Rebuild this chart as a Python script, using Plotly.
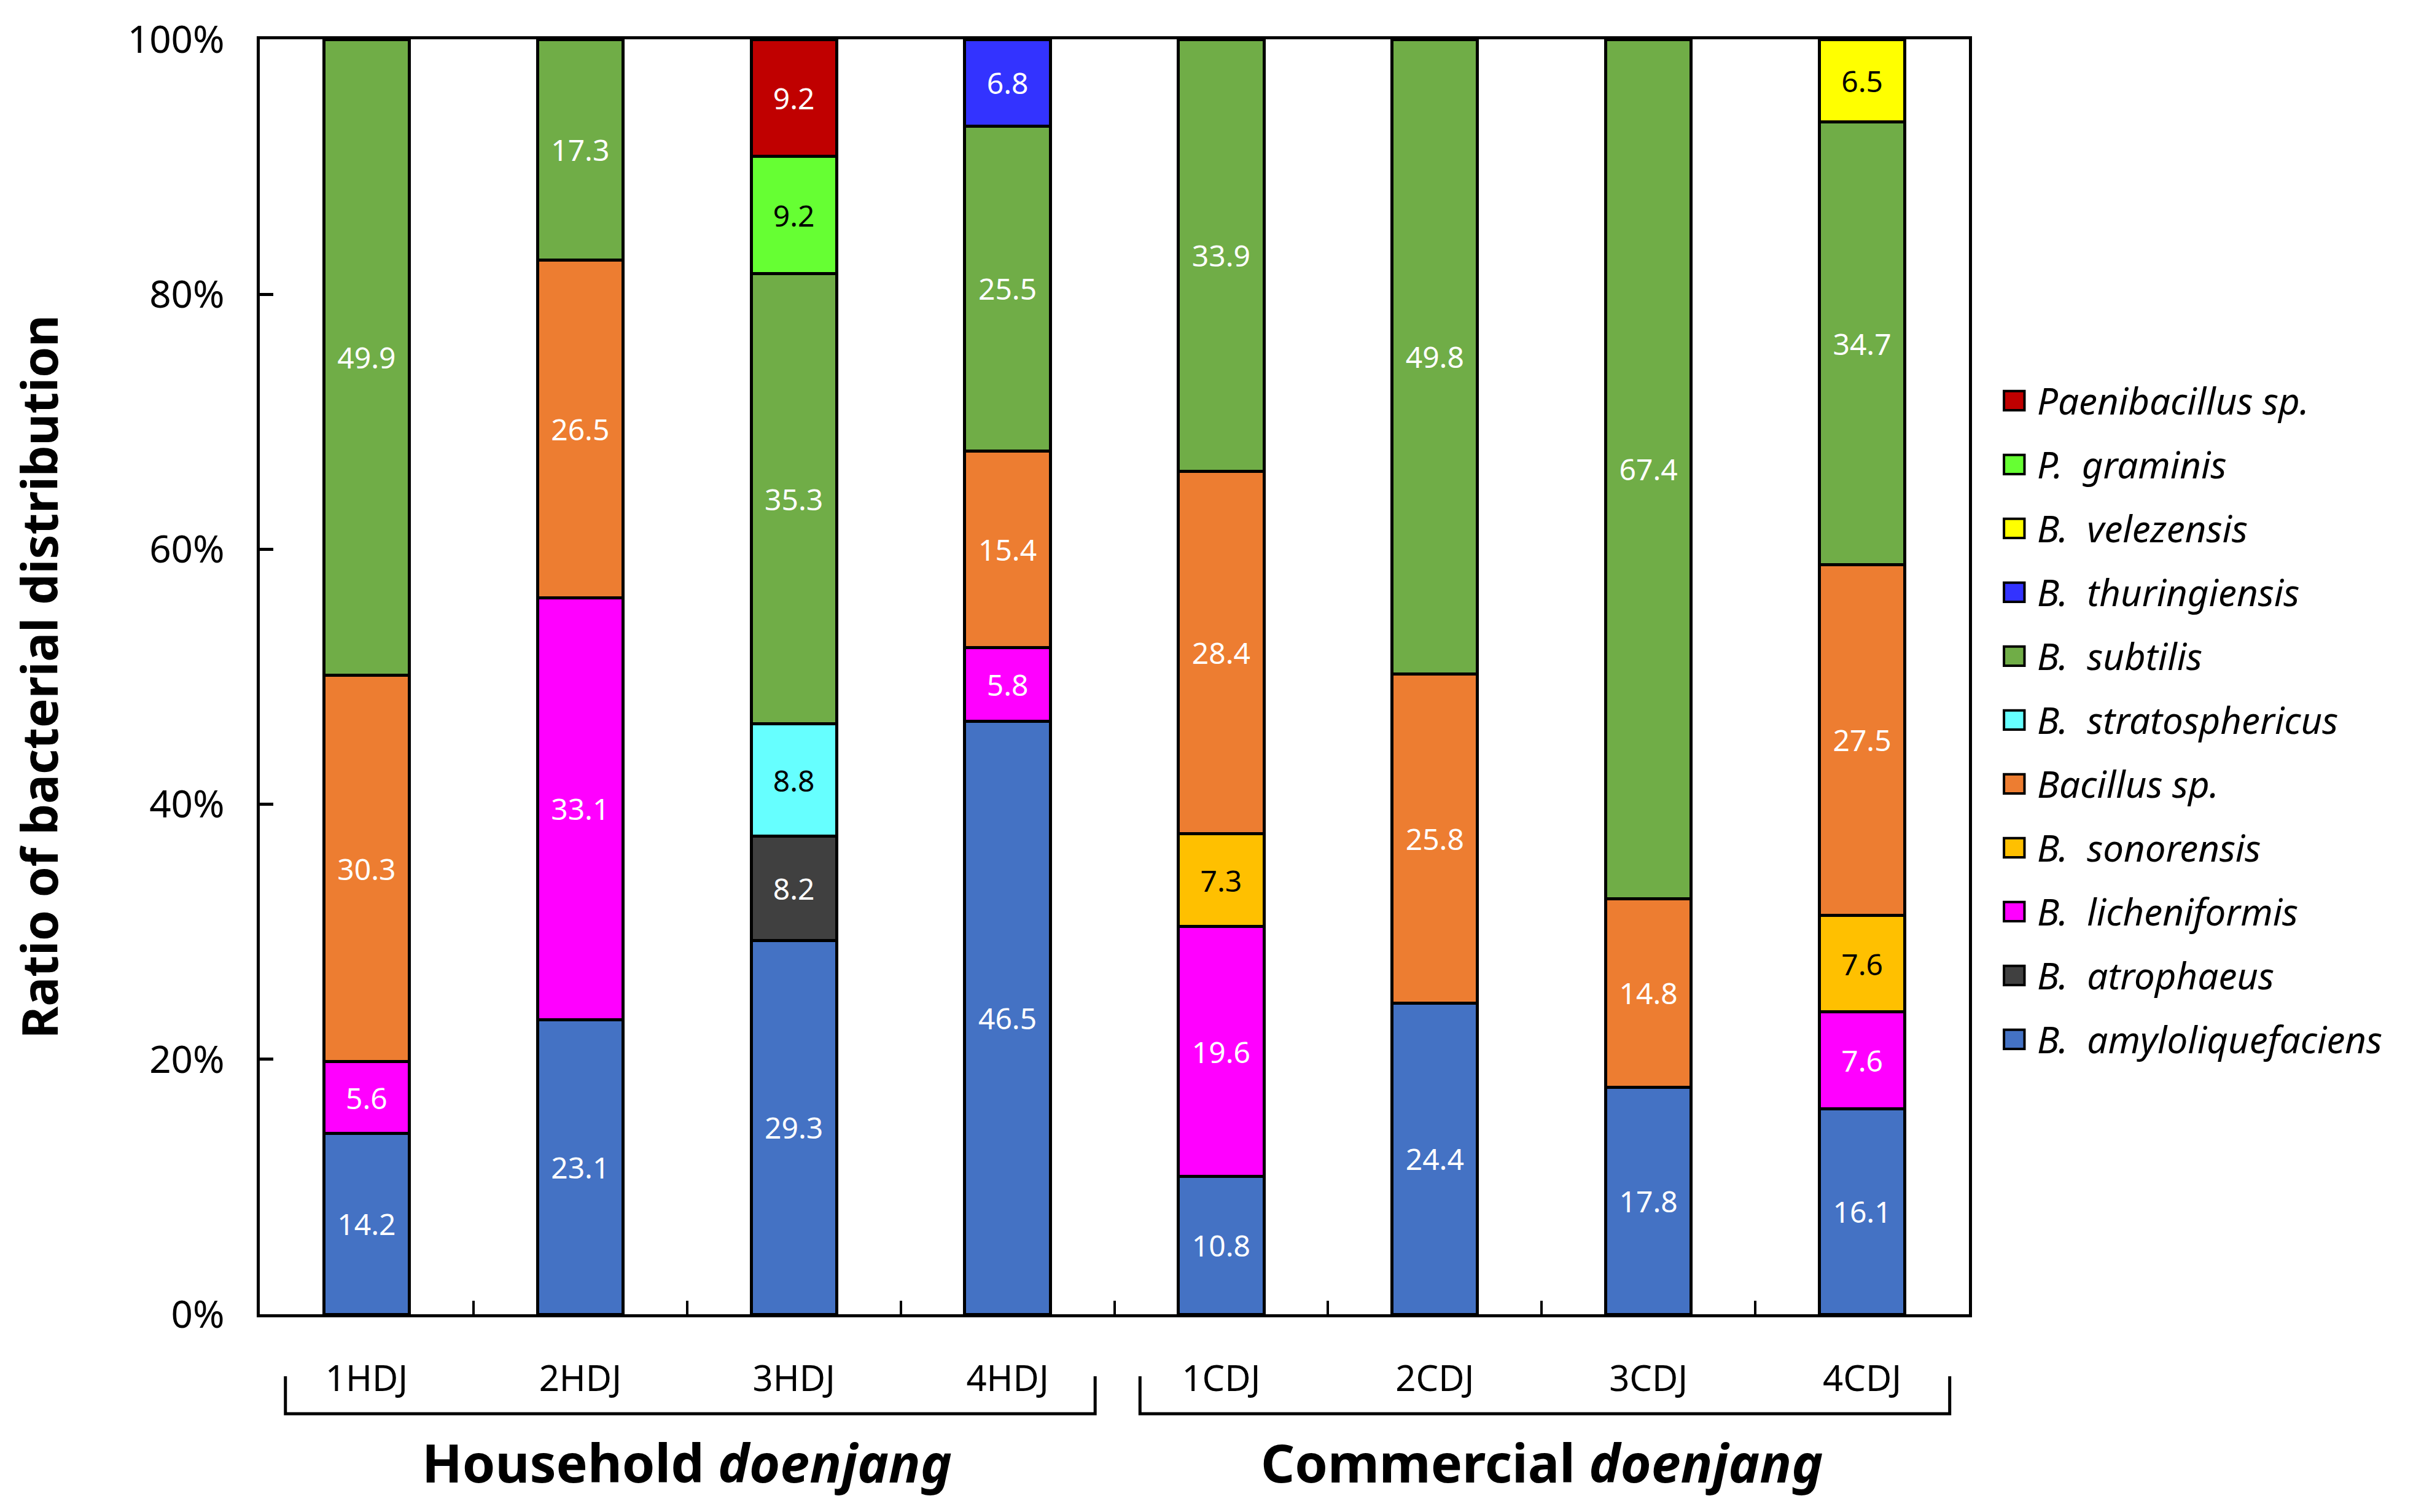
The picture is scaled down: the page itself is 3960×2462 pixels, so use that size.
import plotly.graph_objects as go

samples = ["1HDJ", "2HDJ", "3HDJ", "4HDJ", "1CDJ", "2CDJ", "3CDJ", "4CDJ"]

# stacked bottom -> top
species = [
    "B. amyloliquefaciens", "B. atrophaeus", "B. licheniformis", "B. sonorensis",
    "Bacillus sp.", "B. stratosphericus", "B. subtilis", "B. thuringiensis",
    "B. velezensis", "P. graminis", "Paenibacillus sp.",
]
amyloliquefaciens = [14.2, 23.1, 29.3, 46.5, 10.8, 24.4, 17.8, 16.1]
atrophaeus = [None, None, 8.2, None, None, None, None, None]
licheniformis = [5.6, 33.1, None, 5.8, 19.6, None, None, 7.6]
sonorensis = [None, None, None, None, 7.3, None, None, 7.6]
bacillus_sp = [30.3, 26.5, None, 15.4, 28.4, 25.8, 14.8, 27.5]
stratosphericus = [None, None, 8.8, None, None, None, None, None]
subtilis = [49.9, 17.3, 35.3, 25.5, 33.9, 49.8, 67.4, 34.7]
thuringiensis = [None, None, None, 6.8, None, None, None, None]
velezensis = [None, None, None, None, None, None, None, 6.5]
graminis = [None, None, 9.2, None, None, None, None, None]
paenibacillus_sp = [None, None, 9.2, None, None, None, None, None]

values = [amyloliquefaciens, atrophaeus, licheniformis, sonorensis, bacillus_sp,
          stratosphericus, subtilis, thuringiensis, velezensis, graminis, paenibacillus_sp]
colors = ["#4472C4", "#404040", "#FF00FF", "#FFC000", "#ED7D31", "#66FFFF",
          "#70AD47", "#3333FF", "#FFFF00", "#66FF33", "#C00000"]
text_colors = ["white", "white", "white", "black", "white", "black",
               "white", "white", "black", "black", "white"]

y_ticks = [0, 20, 40, 60, 80, 100]
y_ticktext = ["0%", "20%", "40%", "60%", "80%", "100%"]

groups = ["Household", "Commercial"]

FONT = "Noto Sans"

fig = go.Figure()
for name, vals, col, tcol in zip(species, values, colors, text_colors):
    fig.add_trace(go.Bar(
        x=samples, y=vals, name=name,
        marker=dict(color=col, line=dict(color="black", width=5)),
        text=[f"{v:.1f}" if v is not None else "" for v in vals],
        textposition="inside", insidetextanchor="middle", textangle=0,
        insidetextfont=dict(family=FONT, size=48, color=tcol),
        showlegend=False,
    ))

# manual legend (large square swatches)
y0, step = 0.7166, 0.0501
for i, k in enumerate(reversed(range(len(species)))):
    yc = y0 - i * step
    fig.add_shape(type="rect", xref="paper", yref="paper",
                  x0=1.0205, x1=1.0325, y0=yc - 0.0075, y1=yc + 0.0075,
                  fillcolor=colors[k], line=dict(color="black", width=4))
    label = species[k].replace(". ", ".&nbsp; ")
    fig.add_annotation(xref="paper", yref="paper", x=1.039, y=yc,
                       text=f"<i>{label}</i>", showarrow=False,
                       xanchor="left", yanchor="middle",
                       font=dict(family=FONT, size=60, color="black"))

# group brackets and labels
for (xa, xb, xm), g in zip([(-0.38, 3.41, 1.5), (3.62, 7.41, 5.5)], groups):
    fig.add_shape(type="path", xref="x", yref="paper",
                  path=f"M {xa},-0.0486 L {xa},-0.078 L {xb},-0.078 L {xb},-0.0486",
                  line=dict(color="black", width=5))
    fig.add_annotation(xref="x", yref="paper", x=xm, y=-0.116,
                       text=f"<b>{g} <i>doenjang</i></b>", showarrow=False,
                       xanchor="center", yanchor="middle",
                       font=dict(family=FONT, size=86, color="black"))

fig.update_layout(
    barmode="stack", bargap=0.6,
    width=3960, height=2462,
    margin=dict(l=415, r=762, t=53, b=330),
    plot_bgcolor="white", paper_bgcolor="white",
    font=dict(family=FONT, color="black"),
)
fig.update_xaxes(
    type="category", range=[-0.5, 7.5],
    showline=True, linecolor="black", linewidth=5, mirror=True,
    ticks="inside", tickson="boundaries", ticklen=22, tickwidth=4, tickcolor="black",
    tickfont=dict(family=FONT, size=58, color="black"), ticklabelstandoff=50,
    showgrid=False,
)
fig.update_yaxes(
    range=[0, 100], tickmode="array", tickvals=y_ticks, ticktext=y_ticktext,
    showline=True, linecolor="black", linewidth=5, mirror=True,
    ticks="inside", ticklen=22, tickwidth=5, tickcolor="black",
    tickfont=dict(family=FONT, size=62, color="black"), ticklabelstandoff=40,
    showgrid=False, zeroline=False,
    title=dict(text="<b>Ratio of bacterial distribution</b>",
               font=dict(family=FONT, size=80, color="black"), standoff=90),
)

fig.write_html("out.html")
